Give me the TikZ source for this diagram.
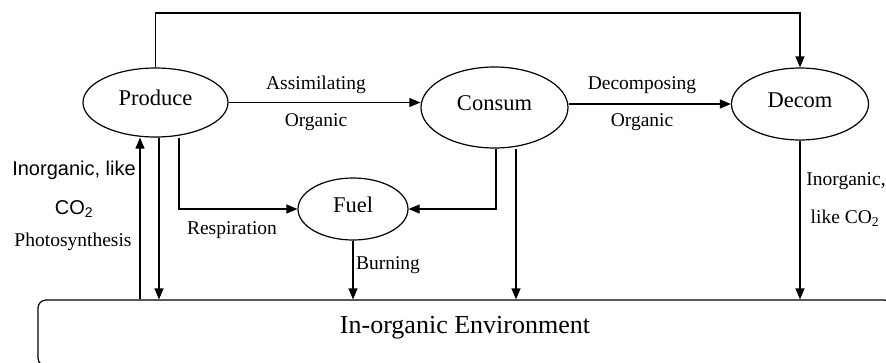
\documentclass[tikz,border=0pt]{standalone}
\usepackage{fontspec}
\setmainfont{Liberation Serif}
\newfontfamily\arialfont{Liberation Sans}
\usetikzlibrary{shapes.geometric,arrows.meta,positioning}
\tikzset{
  organism/.style={draw,ellipse,inner sep=0pt,line width=1.2pt,text height=16pt,text depth=9.6pt,
    font=\fontsize{22.5}{27}\selectfont},
  flow/.style={line width=1.2pt,-{Triangle[length=11pt,width=9pt]}},
  lbl/.style={inner sep=0pt,font=\fontsize{19.5}{23}\selectfont},
  sanslbl/.style={inner sep=0pt,font=\arialfont\fontsize{20}{24}\selectfont},
}
\begin{document}
\begin{tikzpicture}[x=1pt,y=-1pt]
  \useasboundingbox (0,0) rectangle (886,362);
  \clip (0,0) rectangle (886,362);
  % organisms
  \node[organism,minimum width=145pt,minimum height=69pt] (produce) at (155.5,102.5) {Produce};
  \node[organism,minimum width=147pt,minimum height=81pt] (consum) at (494.5,107.5) {Consum};
  \node[organism,minimum width=137pt,minimum height=72pt] (decom) at (800,104) {Decom};
  \node[organism,minimum width=110pt,minimum height=62pt] (fuel) at (353,209) {Fuel};
  \node[draw,rounded corners=8pt,line width=1.2pt,minimum width=854pt,minimum height=66pt,
        text height=14pt,text depth=14pt,font=\fontsize{26}{30}\selectfont] (env) at (465,333) {In-organic Environment};
  % branch points
  \coordinate (top) at (0,13);
  \coordinate (photo) at ([xshift=-15.5pt]produce.south);
  \coordinate (pdown) at ([xshift=3.5pt]produce.south);
  \coordinate (presp) at ([xshift=23.5pt]produce.south);
  \coordinate (cfuel) at ([xshift=1.5pt]consum.south);
  \coordinate (cdown) at ([xshift=21.5pt]consum.south);
  % flows
  \draw[flow] (produce.north) -- (produce.north |- top) -| (decom.north);
  \draw[flow] (produce.east) -- (produce.east -| consum.west);
  \draw[flow] (consum.east |- decom.west) -- (decom.west);
  \draw[flow] (photo |- env.north) -- (photo);
  \draw[flow] (pdown) -- (pdown |- env.north);
  \draw[flow] (presp) |- (fuel.west);
  \draw[flow] (cfuel) |- (fuel.east);
  \draw[flow] (cdown) -- (cdown |- env.north);
  \draw[flow] (fuel.south) -- (fuel.south |- env.north);
  \draw[flow] (decom.south) -- (decom.south |- env.north);
  % labels
  \node[lbl] (assim) at (316,85) {Assimilating};
  \node[lbl] (org1) at (316,122) {Organic};
  \node[lbl] (decomp) at (642,85) {Decomposing};
  \node[lbl] (org2) at (642,122) {Organic};
  \node[lbl] (resp) at (232,230) {Respiration};
  \node[lbl] (burn) at (388,265) {Burning};
  \node[lbl] (inorg2) at (846,181) {Inorganic,};
  \node[lbl] (likeco) at (845,218) {like CO\textsubscript{2}};
  \node[sanslbl] (inorg1) at (74,170) {Inorganic, like};
  \node[sanslbl] (co2) at (74,209) {CO\textsubscript{2}};
  \node[lbl] (photosyn) at (73,242) {Photosynthesis};
\end{tikzpicture}
\end{document}
